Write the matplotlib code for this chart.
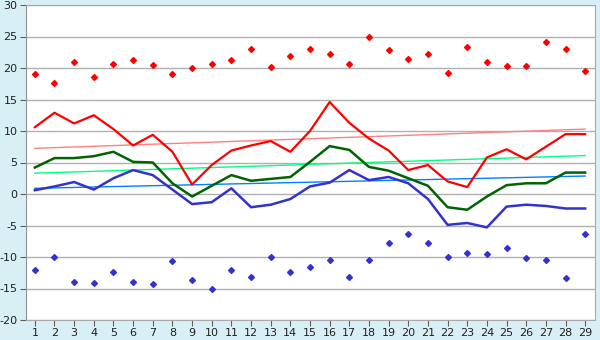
import matplotlib
matplotlib.use("Agg")
import matplotlib.pyplot as plt

plt.rcParams["axes.unicode_minus"] = False

days = list(range(1, 30))
tmax = [10.6, 12.9, 11.2, 12.5, 10.3, 7.7, 9.4, 6.7, 1.5, 4.6, 6.9, 7.7, 8.4, 6.7, 10.0,
        14.6, 11.3, 8.8, 6.9, 3.8, 4.6, 2.0, 1.1, 5.8, 7.1, 5.5, 7.5, 9.5, 9.5]
tmean = [4.2, 5.7, 5.7, 6.0, 6.7, 5.1, 5.0, 1.7, -0.4, 1.3, 3.0, 2.1, 2.4, 2.7, 5.1,
         7.6, 7.0, 4.3, 3.7, 2.5, 1.3, -2.1, -2.5, -0.4, 1.4, 1.7, 1.7, 3.4, 3.4]
tmin = [0.6, 1.2, 1.9, 0.7, 2.5, 3.8, 3.0, 0.7, -1.6, -1.3, 0.9, -2.1, -1.7, -0.8, 1.2,
        1.8, 3.8, 2.2, 2.7, 1.7, -0.8, -4.9, -4.6, -5.3, -2.0, -1.7, -1.9, -2.3, -2.3]
rec_max = [19.0, 17.6, 20.9, 18.5, 20.6, 21.2, 20.4, 19.0, 20.0, 20.6, 21.2, 23.0, 20.1, 21.9, 23.0,
           22.2, 20.6, 25.0, 22.8, 21.5, 22.2, 19.2, 23.3, 20.9, 20.3, 20.3, 24.1, 23.0, 19.5]
rec_min = [-12.1, -10.0, -14.0, -14.2, -12.4, -13.9, -14.3, -10.7, -13.7, -15.1, -12.1, -13.2, -10.0, -12.4, -11.6,
           -10.5, -13.2, -10.5, -7.8, -6.4, -7.8, -10.0, -9.3, -9.6, -8.5, -10.2, -10.5, -13.4, -6.4]
trend_days = [1, 29]
trend_max = [7.25, 10.3]
trend_mean = [3.3, 6.1]
trend_min = [0.9, 2.85]

fig = plt.figure(figsize=(6, 3.4), dpi=100)
fig.patch.set_facecolor("#d9eff6")
ax = fig.add_axes([26/600, 1-320/340, (595-26)/600, (320-5)/340])
ax.set_facecolor("white")

ax.set_xlim(0.55, 29.5)
ax.set_ylim(-20, 30)
ax.set_yticks(range(-20, 31, 5))
ax.set_xticks(days)
ax.yaxis.grid(True, color="#b0b0b0", linewidth=1)
ax.set_axisbelow(True)

ax.plot(trend_days, trend_max, color="#ff8080", linewidth=1)
ax.plot(trend_days, trend_mean, color="#00ff80", linewidth=1)
ax.plot(trend_days, trend_min, color="#0080ff", linewidth=1)

ax.plot(days, tmax, color="#ff0000", linewidth=1.6)
ax.plot(days, tmean, color="#006400", linewidth=1.8)
ax.plot(days, tmin, color="#3333cc", linewidth=1.8)

ax.plot(days, rec_max, linestyle="none", marker="D", markersize=3.0, color="#ff0000")
ax.plot(days, rec_min, linestyle="none", marker="D", markersize=3.0, color="#3333cc")

for s in ["top", "right"]:
    ax.spines[s].set_color("#a8a8a8")
ax.spines["left"].set_color("#909090")
ax.spines["bottom"].set_color("#a8a8a8")
ax.tick_params(axis="both", direction="out", length=4, color="#606060",
               labelsize=8, labelcolor="#202020", pad=2)

fig.savefig("out.png", dpi=100, facecolor=fig.get_facecolor())
